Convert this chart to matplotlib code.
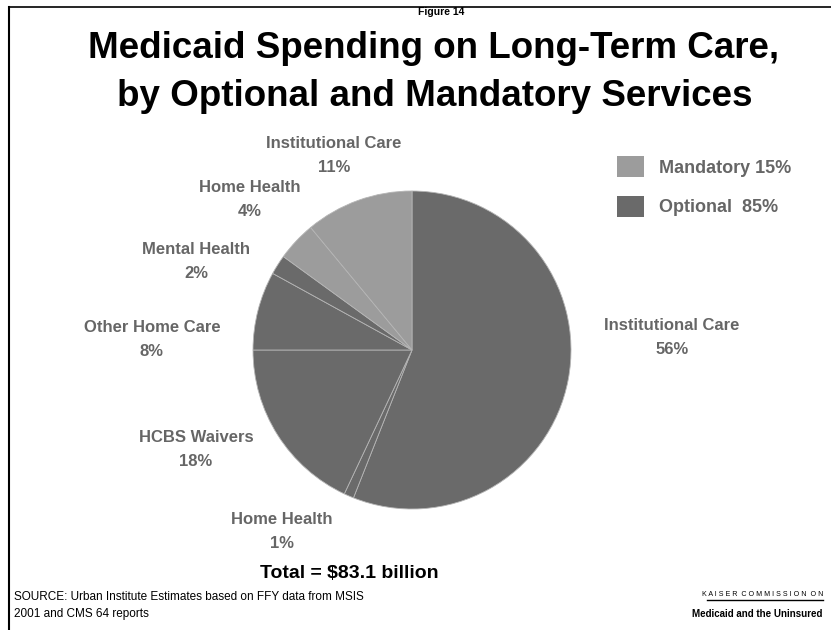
import matplotlib.pyplot as plt
from matplotlib.patches import Patch
from matplotlib.lines import Line2D

W, H = 831, 630

# slices, clockwise from 12 o'clock
names = ['Institutional Care', 'Home Health', 'HCBS Waivers', 'Other Home Care',
         'Mental Health', 'Home Health', 'Institutional Care']
shares = [56, 1, 18, 8, 2, 4, 11]
group = ['Optional', 'Optional', 'Optional', 'Optional', 'Optional', 'Mandatory', 'Mandatory']
group_names = ['Mandatory', 'Optional']
group_totals = [15, 85]
total_text = 'Total = $83.1 billion'

colors = {'Mandatory': '#9c9c9c', 'Optional': '#6a6a6a'}

plt.rcParams['font.family'] = ['Liberation Sans', 'DejaVu Sans']

fig = plt.figure(figsize=(W / 100, H / 100), dpi=100)
ax = fig.add_axes([0, 0, 1, 1])

# pie in pixel coords (y measured from bottom)
ax.pie(shares, colors=[colors[g] for g in group], startangle=90, counterclock=False,
       center=(412, H - 350), radius=159, frame=True,
       wedgeprops=dict(edgecolor='#b5b5b5', linewidth=0.6))
ax.set_xlim(0, W)
ax.set_ylim(0, H)
ax.axis('off')

# slice labels (pixel centre of the name line)
label_pos = [(672, 325), (282, 520), (196, 438), (152, 327), (196, 250), (250, 187), (334, 143)]
for name, val, (x, y) in zip(names, shares, label_pos):
    ax.text(x, H - y, name, ha='center', va='center', fontsize=12, color='#666666', fontweight='bold')
    ax.text(x, H - y - 24, f'{val}%', ha='center', va='center', fontsize=12, color='#666666', fontweight='bold')

# legend
handles = [Patch(facecolor=colors[g], edgecolor='none') for g in group_names]
leg_labels = [f'{g} {t}%' if g == 'Mandatory' else f'{g}  {t}%' for g, t in zip(group_names, group_totals)]
leg = fig.legend(handles, leg_labels, loc='upper left', bbox_to_anchor=(601 / W, 1 - 140 / H),
                 frameon=False, fontsize=13, handlelength=1.5, handleheight=1.4,
                 handletextpad=0.8, labelspacing=1.05)
for t in leg.get_texts():
    t.set_color('#666666')
    t.set_fontweight('bold')

# titles
fig.text(441 / W, 1 - 12 / H, 'Figure 14', ha='center', va='center', fontsize=7.5, fontweight='bold')
fig.text(434 / W, 1 - 48 / H, 'Medicaid Spending on Long-Term Care,', ha='center', va='center',
         fontsize=26.5, fontweight='bold')
fig.text(435 / W, 1 - 96 / H, 'by Optional and Mandatory Services', ha='center', va='center',
         fontsize=26.5, fontweight='bold')

fig.text(349 / W, 1 - 574 / H, total_text, ha='center', va='center', fontsize=14, fontweight='bold')

fig.text(14 / W, 1 - 597 / H, 'SOURCE: Urban Institute Estimates based on FFY data from MSIS',
         ha='left', va='center', fontsize=8.5)
fig.text(14 / W, 1 - 614 / H, '2001 and CMS 64 reports', ha='left', va='center', fontsize=8.5)

fig.text(823 / W, 1 - 595 / H, 'K A I S E R  C O M M I S S I O N  O N', ha='right', va='center',
         fontsize=5.1)
fig.add_artist(Line2D([707 / W, 823 / W], [1 - 600 / H, 1 - 600 / H], color='black', linewidth=1))
fig.text(822 / W, 1 - 614 / H, 'Medicaid and the Uninsured', ha='right', va='center',
         fontsize=7.0, fontweight='bold')

# page frame
fig.add_artist(Line2D([9 / W, 9 / W], [0, 1 - 7 / H], color='black', linewidth=1.5))
fig.add_artist(Line2D([9 / W, 1], [1 - 7 / H, 1 - 7 / H], color='black', linewidth=1.2))

fig.savefig('out.png', dpi=100)
